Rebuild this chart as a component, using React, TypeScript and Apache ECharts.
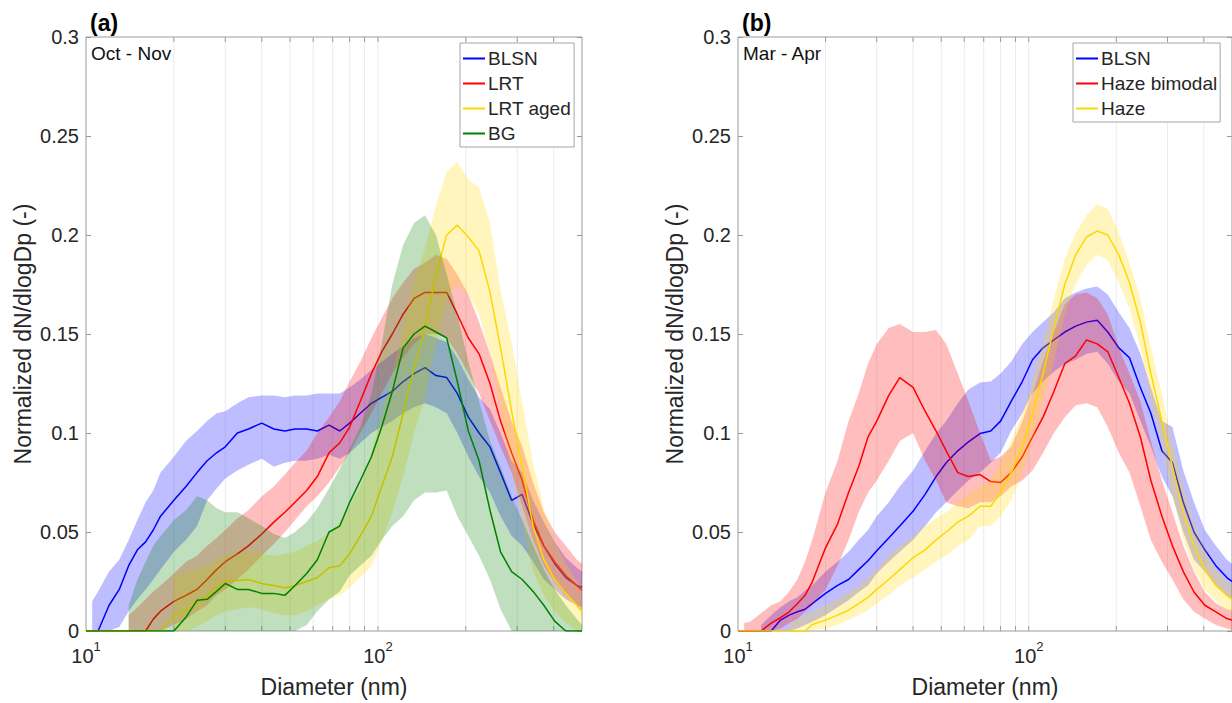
import React, { useEffect, useRef } from 'react';
import * as echarts from 'echarts';

const FONT = '"Liberation Sans", Arial, Helvetica, sans-serif';
const TEXT_COLOR = '#262626';
const AXIS_COLOR = '#9a9a9a';
const GRID_LINE_COLOR = '#ebebeb';

const Y_MIN = 0;
const Y_MAX = 0.3;
const Y_STEP = 0.05;
const X_MIN = 10;
const X_MAX = 500;
const X_MINOR_TICKS = [20, 30, 40, 50, 60, 70, 80, 90, 100, 200, 300, 400];

// Diameters (nm) shared by all curves
const DIAMETERS = [
  10, 10.5, 11, 12, 13, 14, 15, 16, 17, 18,
  20, 22, 24, 26, 28, 30, 33, 36, 40, 44,
  48, 52, 57, 62, 68, 74, 80, 87, 95, 103,
  112, 122, 133, 145, 158, 172, 187, 204, 222, 242,
  263, 287, 312, 340, 370, 403, 440, 480, 500,
];

// ---------- Panel (a) Oct - Nov ----------
const A_BLSN = [
  0, 0, 0, 0.013, 0.021, 0.033, 0.041, 0.045, 0.051, 0.058,
  0.066, 0.073, 0.080, 0.086, 0.090, 0.093, 0.100, 0.102, 0.105, 0.102,
  0.101, 0.102, 0.102, 0.101, 0.104, 0.101, 0.105, 0.110, 0.115, 0.118,
  0.121, 0.126, 0.130, 0.133, 0.129, 0.128, 0.120, 0.108, 0.100, 0.093,
  0.080, 0.066, 0.069, 0.054, 0.043, 0.034, 0.027, 0.023, 0.022,
];
const A_BLSN_HI = [
  null, 0.015, 0.020, 0.030, 0.036, 0.046, 0.056, 0.065, 0.071, 0.080,
  0.088, 0.096, 0.101, 0.106, 0.110, 0.111, 0.115, 0.118, 0.119, 0.119,
  0.118, 0.119, 0.119, 0.120, 0.120, 0.120, 0.123, 0.127, 0.132, 0.136,
  0.140, 0.144, 0.148, 0.150, 0.148, 0.146, 0.138, 0.127, 0.118, 0.112,
  0.100, 0.086, 0.080, 0.066, 0.055, 0.045, 0.037, 0.032, 0.030,
];
const A_BLSN_LO = [
  null, 0, 0, 0, 0.002, 0.010, 0.016, 0.021, 0.026, 0.031,
  0.040, 0.046, 0.053, 0.066, 0.072, 0.077, 0.081, 0.084, 0.087, 0.083,
  0.085, 0.086, 0.086, 0.087, 0.089, 0.087, 0.090, 0.095, 0.100, 0.103,
  0.106, 0.110, 0.113, 0.115, 0.113, 0.110, 0.100, 0.088, 0.078, 0.070,
  0.058, 0.048, 0.043, 0.035, 0.026, 0.021, 0.016, 0.013, 0.012,
];

const A_LRT = [
  0, 0, 0, 0, 0, 0, 0, 0, 0.006, 0.010,
  0.015, 0.018, 0.021, 0.026, 0.031, 0.035, 0.039, 0.043, 0.049, 0.055,
  0.060, 0.065, 0.071, 0.078, 0.090, 0.095, 0.103, 0.116, 0.130, 0.141,
  0.150, 0.160, 0.168, 0.171, 0.171, 0.171, 0.160, 0.148, 0.140, 0.125,
  0.106, 0.090, 0.076, 0.056, 0.043, 0.035, 0.028, 0.023, 0.0205,
];
const A_LRT_HI = [
  null, null, null, null, null, 0.008, 0.012, 0.016, 0.020, 0.023,
  0.029, 0.035, 0.038, 0.043, 0.047, 0.051, 0.057, 0.061, 0.068, 0.073,
  0.079, 0.085, 0.091, 0.100, 0.108, 0.116, 0.126, 0.136, 0.148, 0.158,
  0.168, 0.176, 0.183, 0.186, 0.190, 0.188, 0.180, 0.170, 0.156, 0.140,
  0.123, 0.106, 0.093, 0.075, 0.060, 0.050, 0.043, 0.036, 0.034,
];
const A_LRT_LO = [
  null, null, null, null, null, 0, 0, 0, 0, 0,
  0.003, 0.006, 0.010, 0.013, 0.018, 0.021, 0.026, 0.031, 0.038, 0.044,
  0.050, 0.056, 0.063, 0.068, 0.075, 0.083, 0.090, 0.100, 0.110, 0.120,
  0.130, 0.138, 0.145, 0.150, 0.150, 0.148, 0.140, 0.130, 0.120, 0.106,
  0.093, 0.080, 0.063, 0.046, 0.033, 0.025, 0.018, 0.013, 0.0105,
];

const A_LRT_AGED = [
  0, 0, 0, 0, 0, 0, 0, 0, 0, 0,
  0.008, 0.0105, 0.014, 0.018, 0.022, 0.025, 0.0255, 0.026, 0.024, 0.023,
  0.0217, 0.023, 0.025, 0.027, 0.032, 0.033, 0.039, 0.048, 0.058, 0.073,
  0.088, 0.110, 0.133, 0.153, 0.180, 0.200, 0.205, 0.199, 0.192, 0.171,
  0.143, 0.111, 0.083, 0.053, 0.036, 0.026, 0.019, 0.013, 0.0097,
];
const A_LRT_AGED_HI = [
  null, null, null, null, null, null, null, null, null, null,
  0.028, 0.030, 0.031, 0.033, 0.036, 0.038, 0.039, 0.040, 0.039, 0.038,
  0.039, 0.040, 0.043, 0.0455, 0.050, 0.055, 0.063, 0.073, 0.090, 0.110,
  0.130, 0.153, 0.176, 0.193, 0.215, 0.232, 0.237, 0.228, 0.224, 0.206,
  0.172, 0.146, 0.115, 0.085, 0.062, 0.045, 0.034, 0.025, 0.022,
];
const A_LRT_AGED_LO = [
  null, null, null, null, null, null, null, null, null, null,
  0, 0, 0.002, 0.005, 0.008, 0.010, 0.011, 0.012, 0.011, 0.009,
  0.008, 0.008, 0.010, 0.013, 0.016, 0.018, 0.022, 0.027, 0.033, 0.045,
  0.060, 0.078, 0.100, 0.118, 0.145, 0.168, 0.175, 0.170, 0.160, 0.140,
  0.112, 0.080, 0.055, 0.030, 0.018, 0.010, 0.004, 0, 0,
];

const A_BG = [
  0, 0, 0, 0, 0, 0, 0, 0, 0, 0,
  0, 0.007, 0.0155, 0.016, 0.020, 0.024, 0.021, 0.021, 0.019, 0.019,
  0.018, 0.023, 0.029, 0.036, 0.050, 0.053, 0.065, 0.076, 0.088, 0.103,
  0.121, 0.143, 0.150, 0.154, 0.151, 0.148, 0.126, 0.101, 0.086, 0.061,
  0.040, 0.030, 0.026, 0.020, 0.013, 0.005, 0, 0, 0,
];
const A_BG_HI = [
  null, null, null, null, null, 0.013, 0.026, 0.035, 0.043, 0.048,
  0.056, 0.061, 0.068, 0.066, 0.062, 0.060, 0.060, 0.057, 0.053, 0.049,
  0.047, 0.050, 0.055, 0.062, 0.072, 0.082, 0.092, 0.103, 0.120, 0.145,
  0.175, 0.195, 0.206, 0.210, 0.200, 0.180, 0.160, 0.136, 0.116, 0.096,
  0.083, 0.068, 0.056, 0.043, 0.031, 0.021, 0.013, 0.006, 0.003,
];
const A_BG_LO = [
  null, null, null, null, null, 0, 0, 0, 0, 0,
  0, 0, 0, 0, 0, 0, 0, 0, 0, 0,
  0, 0, 0.003, 0.010, 0.016, 0.020, 0.028, 0.033, 0.038, 0.046,
  0.053, 0.058, 0.066, 0.070, 0.070, 0.071, 0.058, 0.048, 0.038, 0.026,
  0.011, 0, 0, 0, 0, 0, 0, 0, 0,
];

// ---------- Panel (b) Mar - Apr ----------
const B_BLSN = [
  0, 0, 0, 0, 0, 0.0055, 0.008, 0.0097, 0.011, 0.0138,
  0.019, 0.023, 0.026, 0.031, 0.0355, 0.0405, 0.047, 0.053, 0.0605, 0.069,
  0.078, 0.085, 0.091, 0.0955, 0.0997, 0.101, 0.106, 0.116, 0.126, 0.137,
  0.143, 0.147, 0.151, 0.154, 0.156, 0.157, 0.151, 0.143, 0.138, 0.123,
  0.110, 0.091, 0.085, 0.065, 0.050, 0.041, 0.033, 0.027, 0.025,
];
const B_BLSN_HI = [
  null, null, null, 0.003, 0.008, 0.012, 0.015, 0.017, 0.0205, 0.023,
  0.030, 0.035, 0.040, 0.046, 0.051, 0.058, 0.065, 0.073, 0.081, 0.091,
  0.0997, 0.106, 0.115, 0.122, 0.1255, 0.126, 0.130, 0.136, 0.145, 0.151,
  0.156, 0.161, 0.168, 0.171, 0.173, 0.174, 0.170, 0.161, 0.153, 0.140,
  0.123, 0.106, 0.103, 0.081, 0.065, 0.051, 0.043, 0.036, 0.034,
];
const B_BLSN_LO = [
  null, null, null, 0, 0, 0, 0, 0.0013, 0.003, 0.0047,
  0.008, 0.012, 0.0155, 0.0197, 0.023, 0.029, 0.035, 0.040, 0.046, 0.053,
  0.060, 0.065, 0.071, 0.076, 0.080, 0.085, 0.090, 0.101, 0.110, 0.120,
  0.126, 0.131, 0.135, 0.137, 0.140, 0.141, 0.135, 0.126, 0.120, 0.106,
  0.093, 0.078, 0.068, 0.050, 0.036, 0.030, 0.023, 0.018, 0.016,
];

const B_HAZE_BIMODAL = [
  0, 0, 0, 0, 0.004, 0.0067, 0.0097, 0.0138, 0.018, 0.0247,
  0.042, 0.054, 0.070, 0.083, 0.098, 0.106, 0.119, 0.128, 0.123, 0.111,
  0.101, 0.091, 0.080, 0.078, 0.079, 0.0755, 0.075, 0.080, 0.088, 0.098,
  0.108, 0.121, 0.135, 0.139, 0.147, 0.145, 0.141, 0.128, 0.115, 0.098,
  0.076, 0.058, 0.043, 0.030, 0.0197, 0.013, 0.0097, 0.0063, 0.0055,
];
const B_HAZE_BIMODAL_HI = [
  null, 0.004, 0.0047, 0.009, 0.013, 0.015, 0.020, 0.026, 0.035, 0.046,
  0.070, 0.086, 0.106, 0.120, 0.135, 0.145, 0.153, 0.155, 0.151, 0.151,
  0.152, 0.145, 0.130, 0.116, 0.100, 0.086, 0.088, 0.093, 0.106, 0.120,
  0.136, 0.151, 0.165, 0.170, 0.171, 0.168, 0.160, 0.143, 0.130, 0.116,
  0.096, 0.076, 0.060, 0.043, 0.030, 0.0197, 0.014, 0.011, 0.0105,
];
const B_HAZE_BIMODAL_LO = [
  null, 0, 0, 0, 0, 0.0013, 0.004, 0.006, 0.0097, 0.013,
  0.021, 0.033, 0.046, 0.060, 0.070, 0.076, 0.086, 0.096, 0.100, 0.086,
  0.076, 0.065, 0.063, 0.062, 0.065, 0.065, 0.068, 0.073, 0.076, 0.081,
  0.090, 0.100, 0.108, 0.114, 0.115, 0.113, 0.103, 0.090, 0.080, 0.063,
  0.046, 0.035, 0.026, 0.016, 0.0097, 0.0063, 0.003, 0.0013, 0.0005,
];

const B_HAZE = [
  0, 0, 0, 0, 0, 0, 0, 0, 0, 0.0033,
  0.0055, 0.008, 0.0105, 0.0138, 0.017, 0.021, 0.026, 0.031, 0.037, 0.041,
  0.046, 0.050, 0.055, 0.058, 0.063, 0.063, 0.070, 0.080, 0.093, 0.110,
  0.130, 0.153, 0.175, 0.190, 0.199, 0.202, 0.200, 0.190, 0.176, 0.156,
  0.130, 0.106, 0.083, 0.060, 0.043, 0.031, 0.023, 0.018, 0.016,
];
const B_HAZE_HI = [
  null, null, null, null, null, null, 0.004, 0.0063, 0.008, 0.0097,
  0.013, 0.0163, 0.0197, 0.023, 0.027, 0.031, 0.038, 0.043, 0.048, 0.053,
  0.057, 0.060, 0.065, 0.069, 0.073, 0.076, 0.085, 0.096, 0.110, 0.126,
  0.146, 0.168, 0.188, 0.201, 0.210, 0.2155, 0.213, 0.201, 0.186, 0.168,
  0.143, 0.120, 0.095, 0.073, 0.055, 0.041, 0.031, 0.025, 0.023,
];
const B_HAZE_LO = [
  null, null, null, null, null, null, 0, 0, 0, 0.0005,
  0.0013, 0.003, 0.0055, 0.008, 0.0105, 0.0138, 0.018, 0.023, 0.027, 0.031,
  0.035, 0.038, 0.043, 0.046, 0.053, 0.053, 0.058, 0.066, 0.080, 0.096,
  0.116, 0.136, 0.160, 0.175, 0.185, 0.190, 0.187, 0.176, 0.163, 0.143,
  0.116, 0.093, 0.068, 0.046, 0.031, 0.021, 0.015, 0.0105, 0.009,
];

type Curve = { name: string; color: string; fill: string; mean: number[]; lo: (number | null)[]; hi: (number | null)[] };

const BLUE = '#0000ff';
const RED = '#ff0000';
const YELLOW = '#ffd700';
const GREEN = '#008000';
const BLUE_FILL = 'rgba(0,0,255,0.26)';
const RED_FILL = 'rgba(255,0,0,0.26)';
const YELLOW_FILL = 'rgba(255,215,0,0.26)';
const GREEN_FILL = 'rgba(0,128,0,0.25)';

const PANEL_A: Curve[] = [
  { name: 'BLSN', color: BLUE, fill: BLUE_FILL, mean: A_BLSN, lo: A_BLSN_LO, hi: A_BLSN_HI },
  { name: 'LRT', color: RED, fill: RED_FILL, mean: A_LRT, lo: A_LRT_LO, hi: A_LRT_HI },
  { name: 'LRT aged', color: YELLOW, fill: YELLOW_FILL, mean: A_LRT_AGED, lo: A_LRT_AGED_LO, hi: A_LRT_AGED_HI },
  { name: 'BG', color: GREEN, fill: GREEN_FILL, mean: A_BG, lo: A_BG_LO, hi: A_BG_HI },
];
const PANEL_B: Curve[] = [
  { name: 'BLSN', color: BLUE, fill: BLUE_FILL, mean: B_BLSN, lo: B_BLSN_LO, hi: B_BLSN_HI },
  { name: 'Haze bimodal', color: RED, fill: RED_FILL, mean: B_HAZE_BIMODAL, lo: B_HAZE_BIMODAL_LO, hi: B_HAZE_BIMODAL_HI },
  { name: 'Haze', color: YELLOW, fill: YELLOW_FILL, mean: B_HAZE, lo: B_HAZE_LO, hi: B_HAZE_HI },
];

function bandSeries(gi: number, c: Curve, z: number) {
  const pts: number[][] = [];
  DIAMETERS.forEach((d, i) => {
    const l = c.lo[i];
    const h = c.hi[i];
    if (l != null && h != null) pts.push([d, l, h]);
  });
  return {
    type: 'custom',
    name: c.name + ' range',
    xAxisIndex: gi,
    yAxisIndex: gi * 2,
    silent: true,
    z,
    clip: true,
    data: [[100, 0.1]],
    renderItem: (_p: any, api: any) => {
      const upper = pts.map((p) => api.coord([p[0], p[2]]));
      const lower = pts.map((p) => api.coord([p[0], p[1]])).reverse();
      return {
        type: 'polygon',
        shape: { points: upper.concat(lower) },
        style: { fill: c.fill, stroke: null },
      };
    },
  };
}

function lineSeries(gi: number, c: Curve, z: number) {
  return {
    type: 'line',
    name: c.name,
    xAxisIndex: gi,
    yAxisIndex: gi * 2,
    data: DIAMETERS.map((d, i) => [d, c.mean[i]]),
    showSymbol: false,
    symbol: 'none',
    clip: true,
    z,
    lineStyle: { color: c.color, width: 1.5 },
    itemStyle: { color: c.color },
    emphasis: { disabled: true },
  };
}

function minorGridSeries(gi: number) {
  return {
    type: 'custom',
    xAxisIndex: gi,
    yAxisIndex: gi * 2,
    silent: true,
    z: 1,
    clip: false,
    data: X_MINOR_TICKS.map((v) => [v, 0]),
    renderItem: (_p: any, api: any) => {
      const v = api.value(0);
      const b = api.coord([v, Y_MIN]);
      const t = api.coord([v, Y_MAX]);
      return {
        type: 'group',
        children: [
          { type: 'line', shape: { x1: b[0], y1: b[1], x2: t[0], y2: t[1] }, style: { stroke: GRID_LINE_COLOR, lineWidth: 1 } },
          { type: 'line', shape: { x1: b[0], y1: b[1], x2: b[0], y2: b[1] - 5 }, style: { stroke: AXIS_COLOR, lineWidth: 1 } },
          { type: 'line', shape: { x1: t[0], y1: t[1], x2: t[0], y2: t[1] + 5 }, style: { stroke: AXIS_COLOR, lineWidth: 1 } },
        ],
      };
    },
  };
}

function xAxisCfg(gi: number) {
  return {
    type: 'log',
    logBase: 10,
    gridIndex: gi,
    min: X_MIN,
    max: X_MAX,
    name: 'Diameter (nm)',
    nameLocation: 'middle',
    nameGap: 44,
    nameTextStyle: { fontSize: 23, color: TEXT_COLOR, fontFamily: FONT },
    axisLine: { show: false },
    axisTick: { show: false },
    splitLine: { show: false },
    minorTick: { show: false },
    axisLabel: {
      show: true,
      margin: 9,
      showMinLabel: true,
      showMaxLabel: false,
      color: TEXT_COLOR,
      fontSize: 20,
      fontFamily: FONT,
      formatter: (v: number) => {
        const e = Math.log10(v);
        if (Math.abs(e - Math.round(e)) < 1e-6) return `{b|10}{s|${Math.round(e)}}`;
        return '';
      },
      rich: {
        b: { fontSize: 20, color: TEXT_COLOR, fontFamily: FONT, padding: [6, 0, 0, 0], verticalAlign: 'bottom' },
        s: { fontSize: 13, color: TEXT_COLOR, fontFamily: FONT, verticalAlign: 'top' },
      },
    },
  };
}

function yAxisLeft(gi: number) {
  return {
    type: 'value',
    gridIndex: gi,
    min: Y_MIN,
    max: Y_MAX,
    interval: Y_STEP,
    name: 'Normalized dN/dlogDp (-)',
    nameLocation: 'middle',
    nameGap: 52,
    nameTextStyle: { fontSize: 23, color: TEXT_COLOR, fontFamily: FONT },
    axisLine: { show: false },
    axisTick: { show: true, inside: true, length: 5, lineStyle: { color: AXIS_COLOR, width: 1 } },
    splitLine: { show: false },
    axisLabel: {
      margin: 7,
      color: TEXT_COLOR,
      fontSize: 20,
      fontFamily: FONT,
      formatter: (v: number) => String(+v.toFixed(2)),
    },
  };
}

function yAxisRight(gi: number) {
  return {
    type: 'value',
    gridIndex: gi,
    position: 'right',
    min: Y_MIN,
    max: Y_MAX,
    interval: Y_STEP,
    axisLine: { show: false },
    axisTick: { show: true, inside: true, length: 5, lineStyle: { color: AXIS_COLOR, width: 1 } },
    splitLine: { show: false },
    axisLabel: { show: false },
  };
}

function legendCfg(names: string[], left: number) {
  return {
    data: names,
    orient: 'vertical',
    left,
    top: 43,
    padding: [6, 3, 4, 3],
    itemGap: 6,
    itemWidth: 22,
    itemHeight: 2,
    icon: 'rect',
    selectedMode: false,
    borderColor: '#a6a6a6',
    borderWidth: 1,
    borderRadius: 0,
    backgroundColor: '#ffffff',
    z: 20,
    textStyle: { fontSize: 19, color: TEXT_COLOR, fontFamily: FONT, padding: [0, 0, 0, -2] },
  };
}

export default function App() {
  const ref = useRef<HTMLDivElement>(null);

  useEffect(() => {
    if (!ref.current) return;
    const chart = echarts.init(ref.current, undefined, { renderer: 'svg' });

    const series: any[] = [minorGridSeries(0), minorGridSeries(1)];
    let z = 2;
    PANEL_A.forEach((c) => {
      series.push(bandSeries(0, c, z++));
      series.push(lineSeries(0, c, z++));
    });
    z = 2;
    PANEL_B.forEach((c) => {
      series.push(bandSeries(1, c, z++));
      series.push(lineSeries(1, c, z++));
    });

    const option: any = {
      animation: false,
      textStyle: { fontFamily: FONT },
      grid: [
        { left: 86, top: 37, width: 496, height: 600, show: true, borderColor: AXIS_COLOR, borderWidth: 1, backgroundColor: 'transparent', containLabel: false },
        { left: 738, top: 37, width: 497, height: 600, show: true, borderColor: AXIS_COLOR, borderWidth: 1, backgroundColor: 'transparent', containLabel: false },
      ],
      xAxis: [xAxisCfg(0), xAxisCfg(1)],
      yAxis: [yAxisLeft(0), yAxisRight(0), yAxisLeft(1), yAxisRight(1)],
      legend: [
        legendCfg(PANEL_A.map((c) => c.name), 460),
        legendCfg(PANEL_B.map((c) => c.name), 1073),
      ],
      graphic: [
        { type: 'text', left: 90, top: 11, z: 30, style: { text: '(a)', font: `bold 23px ${FONT}`, fill: '#000' } },
        { type: 'text', left: 91, top: 44, z: 30, style: { text: 'Oct - Nov', font: `19px ${FONT}`, fill: '#111' } },
        { type: 'text', left: 742, top: 11, z: 30, style: { text: '(b)', font: `bold 23px ${FONT}`, fill: '#000' } },
        { type: 'text', left: 743, top: 44, z: 30, style: { text: 'Mar - Apr', font: `19px ${FONT}`, fill: '#111' } },
      ],
      series,
    };

    chart.setOption(option);
    return () => chart.dispose();
  }, []);

  return <div ref={ref} style={{ position: 'fixed', left: 0, top: 0, width: 1232, height: 703, background: '#fff' }} />;
}
